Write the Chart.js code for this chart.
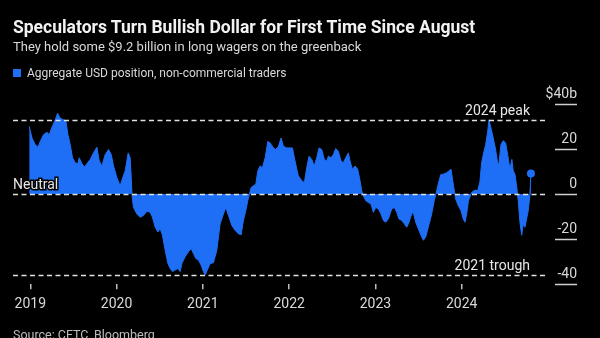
<!DOCTYPE html>
<html lang="en">
<head>
<meta charset="UTF-8">
<title>Speculators Turn Bullish Dollar</title>
<script src="https://cdn.jsdelivr.net/npm/chart.js"></script>
<style>
    body { margin: 0; background: #000; }
    #wrap { position: relative; width: 600px; height: 338px; background: #000; overflow: hidden; font-family: Roboto, sans-serif; }
    #chartCanvas { position: absolute; left: 0; top: 0; }
    .txt { position: absolute; left: 13px; color: #e6e6e6; white-space: nowrap; }
    #title { top: 17px; font-size: 17.5px; font-weight: 700; color: #f2f2f2; }
    #subtitle { top: 39px; font-size: 13px; color: #d9d9d9; }
    #legend { top: 66px; font-size: 12px; color: #d9d9d9; }
    #legend span { display: inline-block; width: 8px; height: 8px; background: #1e6ff5; margin-right: 6px; vertical-align: 0px; }
    #source { top: 327px; font-size: 12.5px; color: #bdbdbd; }
</style>
</head>
<body>
<div id="wrap">
    <canvas id="chartCanvas" width="600" height="338"></canvas>
    <div class="txt" id="title">Speculators Turn Bullish Dollar for First Time Since August</div>
    <div class="txt" id="subtitle">They hold some $9.2 billion in long wagers on the greenback</div>
    <div class="txt" id="legend"><span></span>Aggregate USD position, non-commercial traders</div>
    <div class="txt" id="source">Source: CFTC, Bloomberg</div>
</div>

<script>
    // weekly CFTC readings, x = fractional year
    const dates = [
        2018.988, 2019.020, 2019.058, 2019.089, 2019.116, 2019.154, 2019.193, 2019.220, 2019.251, 2019.290,
        2019.316, 2019.347, 2019.386, 2019.413, 2019.437, 2019.463, 2019.490, 2019.521, 2019.552, 2019.567,
        2019.599, 2019.629, 2019.657, 2019.695, 2019.733, 2019.772, 2019.799, 2019.830, 2019.869, 2019.907,
        2019.938, 2019.965, 2020.004, 2020.042, 2020.065, 2020.100, 2020.135, 2020.158, 2020.181, 2020.196,
        2020.236, 2020.274, 2020.312, 2020.352, 2020.390, 2020.416, 2020.448, 2020.479, 2020.506, 2020.532,
        2020.563, 2020.595, 2020.621, 2020.648, 2020.679, 2020.711, 2020.737, 2020.757, 2020.795, 2020.833,
        2020.865, 2020.891, 2020.919, 2020.949, 2020.980, 2021.007, 2021.027, 2021.085, 2021.123, 2021.162,
        2021.200, 2021.239, 2021.266, 2021.297, 2021.336, 2021.374, 2021.412, 2021.444, 2021.470, 2021.498,
        2021.521, 2021.540, 2021.559, 2021.586, 2021.614, 2021.637, 2021.664, 2021.690, 2021.722, 2021.753,
        2021.779, 2021.818, 2021.845, 2021.876, 2021.907, 2021.934, 2021.973, 2022.011, 2022.038, 2022.061,
        2022.089, 2022.107, 2022.147, 2022.177, 2022.204, 2022.231, 2022.262, 2022.292, 2022.320, 2022.347,
        2022.378, 2022.408, 2022.436, 2022.455, 2022.486, 2022.513, 2022.540, 2022.570, 2022.602, 2022.628,
        2022.656, 2022.686, 2022.706, 2022.733, 2022.764, 2022.795, 2022.822, 2022.841, 2022.860, 2022.888,
        2022.918, 2022.949, 2022.976, 2023.004, 2023.034, 2023.065, 2023.092, 2023.119, 2023.150, 2023.189,
        2023.219, 2023.247, 2023.273, 2023.305, 2023.335, 2023.363, 2023.389, 2023.420, 2023.439, 2023.467,
        2023.497, 2023.528, 2023.555, 2023.583, 2023.613, 2023.652, 2023.682, 2023.710, 2023.737, 2023.760,
        2023.786, 2023.826, 2023.852, 2023.876, 2023.902, 2023.930, 2023.960, 2023.991, 2024.018, 2024.038,
        2024.057, 2024.078, 2024.115, 2024.154, 2024.185, 2024.211, 2024.231, 2024.250, 2024.278, 2024.301,
        2024.316, 2024.339, 2024.365, 2024.393, 2024.416, 2024.431, 2024.455, 2024.481, 2024.509, 2024.532,
        2024.559, 2024.581, 2024.597, 2024.617, 2024.636, 2024.655, 2024.675, 2024.695, 2024.713, 2024.733,
        2024.752, 2024.771, 2024.790, 2024.802
    ];

    // aggregate USD position, $ billions
    const usdPosition = [
        30.0, 24.9, 22.0, 20.8, 23.4, 26.4, 27.5, 26.4, 29.6, 33.0,
        35.9, 33.7, 33.0, 32.5, 26.4, 22.0, 16.1, 13.9, 13.5, 16.1,
        13.5, 12.0, 13.5, 15.4, 18.3, 20.8, 14.7, 12.5, 17.6, 19.8,
        17.6, 12.5, 7.3, 3.7, 6.6, 10.3, 18.3, 16.0, -1.0, -5.9,
        -8.8, -10.3, -9.5, -7.6, -8.1, -10.3, -14.7, -16.8, -15.4, -18.3,
        -24.9, -30.8, -33.0, -34.4, -33.7, -33.0, -34.4, -30.8, -27.8, -25.6,
        -24.2, -26.4, -28.6, -29.3, -31.5, -34.4, -35.9, -30.8, -30.5, -24.9,
        -13.2, -8.8, -5.9, -9.5, -13.9, -16.1, -17.6, -18.0, -11.7, -7.3,
        -2.9, 0.0, 2.9, 3.7, 4.4, 10.3, 12.5, 11.7, 16.1, 23.4,
        22.7, 20.5, 19.8, 21.2, 24.9, 21.2, 20.5, 20.5, 20.5, 16.1,
        11.0, 8.1, 5.9, 5.1, 11.7, 16.8, 15.4, 12.5, 16.1, 20.5,
        19.8, 15.4, 14.7, 16.8, 16.1, 17.6, 20.2, 19.0, 14.7, 13.9,
        16.1, 18.3, 14.7, 11.0, 12.5, 11.0, 5.9, 1.5, -0.7, -2.9,
        -3.7, -4.4, -8.1, -5.9, -6.6, -8.8, -11.7, -12.5, -11.0, -6.6,
        -5.9, -8.1, -11.0, -11.7, -13.2, -14.7, -12.5, -8.8, -8.1, -12.5,
        -15.4, -18.3, -20.5, -19.0, -14.7, -8.8, -2.9, 1.5, 5.9, 8.8,
        8.8, 9.5, 10.3, 11.0, 4.4, -2.2, -5.1, -7.3, -11.0, -12.5,
        -8.8, -3.0, 0.7, 1.8, 1.5, 5.5, 13.9, 17.6, 22.0, 27.8,
        33.0, 29.3, 24.9, 19.8, 13.9, 13.2, 22.0, 23.7, 22.7, 17.6,
        11.0, 15.4, 10.3, 8.8, 3.7, -2.9, -12.5, -18.3, -13.2, -14.7,
        -11.0, -7.3, -0.5, 9.2
    ];

    const yearTicks = [2019, 2020, 2021, 2022, 2023, 2024];
    const valueTicks = [40, 20, 0, -20, -40];

    // reference lines
    const refLines = [
        { value: 32.7, label: '2024 peak', side: 'right' },
        { value: 0, label: 'Neutral', side: 'left' },
        { value: -35.9, label: '2021 trough', side: 'right' }
    ];

    const blue = '#1e6ff5';

    const overlay = {
        id: 'overlay',
        afterDatasetsDraw(chart) {
            const ctx = chart.ctx;
            const area = chart.chartArea;
            const y = chart.scales.y;
            ctx.save();
            // dashed reference lines
            ctx.strokeStyle = '#e0e0e0';
            ctx.lineWidth = 1.5;
            ctx.setLineDash([5, 3.5]);
            refLines.forEach(r => {
                const py = Math.round(y.getPixelForValue(r.value)) + 0.5;
                ctx.beginPath();
                ctx.moveTo(area.left, py);
                ctx.lineTo(area.right, py);
                ctx.stroke();
            });
            ctx.setLineDash([]);
            ctx.font = '14px Roboto, sans-serif';
            ctx.textBaseline = 'alphabetic';
            refLines.forEach(r => {
                const py = y.getPixelForValue(r.value);
                if (r.side === 'left') {
                    ctx.textAlign = 'left';
                    ctx.lineWidth = 3;
                    ctx.strokeStyle = '#000';
                    ctx.strokeText(r.label, area.left, py - 5);
                    ctx.fillStyle = '#e6e6e6';
                    ctx.fillText(r.label, area.left, py - 5);
                } else {
                    ctx.textAlign = 'right';
                    ctx.fillStyle = '#e6e6e6';
                    ctx.fillText(r.label, area.right - 18, py - 5);
                }
            });
            // right value axis: short rules with labels above
            ctx.strokeStyle = '#cfcfcf';
            ctx.lineWidth = 1.5;
            ctx.fillStyle = '#d9d9d9';
            ctx.textAlign = 'right';
            valueTicks.forEach(v => {
                const py = Math.round(y.getPixelForValue(v)) + 0.5;
                ctx.beginPath();
                ctx.moveTo(area.right + 7, py);
                ctx.lineTo(area.right + 29, py);
                ctx.stroke();
                const lbl = v === 40 ? '$40b' : String(v);
                ctx.fillText(lbl, area.right + 29, py - 7);
            });
            ctx.restore();
        }
    };

    const ctx = document.getElementById('chartCanvas').getContext('2d');
    const chart = new Chart(ctx, {
        type: 'line',
        data: {
            datasets: [{
                label: 'Aggregate USD position, non-commercial traders',
                data: dates.map((d, i) => ({ x: d, y: usdPosition[i] })),
                borderColor: blue,
                backgroundColor: blue,
                borderWidth: 1,
                fill: 'origin',
                tension: 0,
                pointRadius: usdPosition.map((v, i) => i === usdPosition.length - 1 ? 4 : 0),
                pointBackgroundColor: blue,
                pointBorderWidth: 0
            }]
        },
        options: {
            responsive: false,
            animation: false,
            layout: { padding: { top: 104, left: 13, right: 52, bottom: 18 } },
            plugins: {
                legend: { display: false },
                tooltip: { enabled: false }
            },
            scales: {
                x: {
                    type: 'linear',
                    min: 2018.8,
                    max: 2025.0,
                    afterBuildTicks: axis => { axis.ticks = yearTicks.map(v => ({ value: v })); },
                    grid: { drawOnChartArea: false, drawTicks: true, tickLength: 5, color: '#bdbdbd', lineWidth: 1.5 },
                    border: { display: false },
                    ticks: {
                        color: '#d9d9d9',
                        font: { family: 'Roboto', size: 14 },
                        padding: 7,
                        maxRotation: 0,
                        callback: v => String(v)
                    }
                },
                y: {
                    display: false,
                    min: -40,
                    max: 40
                }
            }
        },
        plugins: [overlay]
    });
</script>
</body>
</html>
